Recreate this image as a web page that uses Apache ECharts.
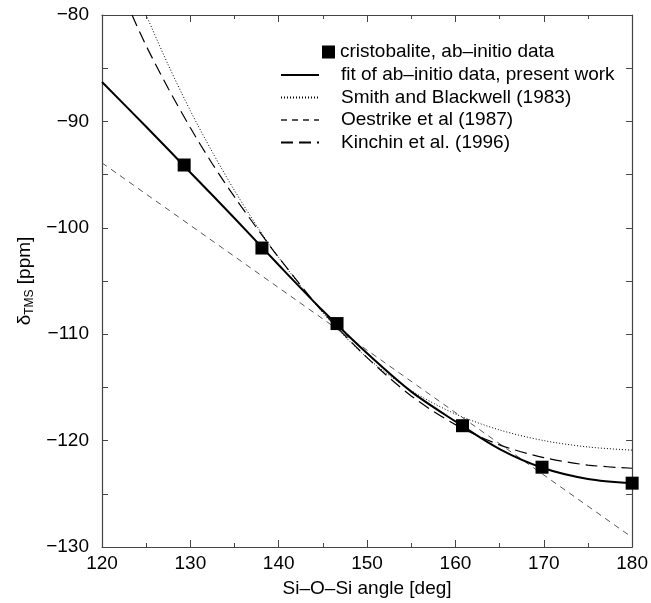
<!DOCTYPE html>
<html>
<head>
<meta charset="utf-8">
<script src="https://cdn.jsdelivr.net/npm/echarts@6/dist/echarts.min.js"></script>
<style>
  html, body { margin: 0; padding: 0; background: #fff; }
  #chart { width: 651px; height: 603px; }
</style>
</head>
<body>
<div id="chart"></div>
<script>
// ab-initio points (squares)
var abInitio = [[129.3, -94.1], [138.1, -101.9], [146.6, -109.0], [160.8, -118.6], [169.8, -122.5], [180.0, -124.0]];
// fit of ab-initio data, present work (solid)
var fitCurve = [[120, -86.3], [125, -90.5], [130, -94.8], [135, -99.1], [140, -103.5], [145, -107.8], [150, -111.8], [155, -115.4], [160, -118.2], [165, -120.8], [170, -122.6], [175, -123.6], [180, -124.0]];
// Smith and Blackwell (1983), dotted
var smithCurve = [[125.0, -80.0], [127.5, -84.7], [130, -89.0], [132.5, -92.9], [135, -96.5], [137.5, -99.8], [140, -102.8], [145, -108.0], [150, -112.2], [155, -115.3], [160, -117.5], [165, -119.0], [170, -120.0], [175, -120.6], [180, -120.9]];
// Oestrike et al (1987), straight line
var oestrikeLine = [[120, -93.9], [180, -129.1]];
// Kinchin et al. (1996), long dashes
var kinchinCurve = [[123.4, -80.0], [125, -82.9], [127.5, -86.9], [130, -90.6], [132.5, -94.0], [135, -97.1], [137.5, -100.0], [140, -102.8], [145, -107.9], [150, -112.2], [155, -115.8], [160, -118.5], [165, -120.4], [170, -121.6], [175, -122.3], [180, -122.6]];

var names = ['cristobalite, ab\u2013initio data', 'fit of ab\u2013initio data, present work', 'Smith and Blackwell (1983)', 'Oestrike et al (1987)', 'Kinchin et al. (1996)'];

var font = 'Liberation Sans';
var fs = 19;
var axisColor = '#444';

function minus(v) { return String(v).replace('-', '\u2212'); }

var myChart = echarts.init(document.getElementById('chart'));

var option = {
  animation: false,
  textStyle: { fontFamily: font },
  grid: { left: 102, right: 16, top: 15, bottom: 55 },
  legend: [
    {
      data: [names[0]],
      left: 317, top: 37.5,
      itemWidth: 13, itemHeight: 13,
      textStyle: { fontFamily: font, fontSize: fs, color: '#000' }
    },
    {
      data: names.slice(1),
      orient: 'vertical',
      left: 275, top: 60.5,
      itemWidth: 38, itemHeight: 10, itemGap: 3.5,
      itemStyle: { opacity: 0 },
      textStyle: { fontFamily: font, fontSize: fs, color: '#000', padding: [0, 0, 0, 17] }
    }
  ],
  xAxis: [
    {
      type: 'value', min: 120, max: 180, interval: 10,
      name: 'Si\u2013O\u2013Si angle [deg]', nameLocation: 'middle', nameGap: 32,
      nameTextStyle: { fontFamily: font, fontSize: fs, color: '#000' },
      axisLine: { lineStyle: { color: axisColor, width: 1.2 } },
      axisTick: { inside: true, length: 7, lineStyle: { color: axisColor } },
      minorTick: { show: true, splitNumber: 2, length: 4, lineStyle: { color: axisColor } },
      axisLabel: { fontFamily: font, fontSize: fs, color: '#000', margin: 7 },
      splitLine: { show: false }
    },
    {
      type: 'value', min: 120, max: 180, interval: 10, position: 'top',
      axisLine: { lineStyle: { color: axisColor, width: 1.2 } },
      axisTick: { inside: true, length: 7, lineStyle: { color: axisColor } },
      minorTick: { show: true, splitNumber: 2, length: 4, lineStyle: { color: axisColor } },
      axisLabel: { show: false },
      splitLine: { show: false }
    }
  ],
  yAxis: [
    {
      type: 'value', min: -130, max: -80, interval: 10,
      name: '{a|\u03b4}{b|TMS}{a| [ppm]}', nameLocation: 'middle', nameGap: 66, nameRotate: 90,
      nameTextStyle: {
        fontFamily: font, fontSize: fs, color: '#000', padding: [0, 0, 0, 0],
        rich: {
          a: { fontFamily: font, fontSize: fs, color: '#000' },
          b: { fontFamily: font, fontSize: 12, color: '#000', verticalAlign: 'bottom', padding: [9, 0, 0, 0] }
        }
      },
      axisLine: { lineStyle: { color: axisColor, width: 1.2 } },
      axisTick: { inside: true, length: 6, lineStyle: { color: axisColor } },
      minorTick: { show: true, splitNumber: 2, length: 6, lineStyle: { color: axisColor } },
      axisLabel: { fontFamily: font, fontSize: fs, color: '#000', margin: 13, formatter: minus },
      splitLine: { show: false }
    },
    {
      type: 'value', min: -130, max: -80, interval: 10, position: 'right',
      axisLine: { lineStyle: { color: axisColor, width: 1.2 } },
      axisTick: { inside: true, length: 6, lineStyle: { color: axisColor } },
      minorTick: { show: true, splitNumber: 2, length: 6, lineStyle: { color: axisColor } },
      axisLabel: { show: false },
      splitLine: { show: false }
    }
  ],
  series: [
    {
      name: names[1], type: 'line', data: fitCurve, smooth: 0.3,
      showSymbol: false, symbol: 'none',
      lineStyle: { color: '#000', width: 2 }, itemStyle: { color: '#000' }, z: 3
    },
    {
      name: names[2], type: 'line', data: smithCurve, smooth: 0.3,
      showSymbol: false, symbol: 'none',
      lineStyle: { color: '#000', width: 1, type: [1, 2] }, itemStyle: { color: '#000' }, z: 2
    },
    {
      name: names[3], type: 'line', data: oestrikeLine,
      showSymbol: false, symbol: 'none',
      lineStyle: { color: '#555', width: 1, type: [6, 5] }, itemStyle: { color: '#888' }, z: 2
    },
    {
      name: names[4], type: 'line', data: kinchinCurve, smooth: 0.3,
      showSymbol: false, symbol: 'none',
      lineStyle: { color: '#000', width: 1.2, type: [12, 6] }, itemStyle: { color: '#000' }, z: 2
    },
    {
      name: names[0], type: 'scatter', data: abInitio,
      symbol: 'rect', symbolSize: 13,
      itemStyle: { color: '#000', opacity: 1 }, z: 5
    }
  ]
};

myChart.setOption(option);
</script>
</body>
</html>
